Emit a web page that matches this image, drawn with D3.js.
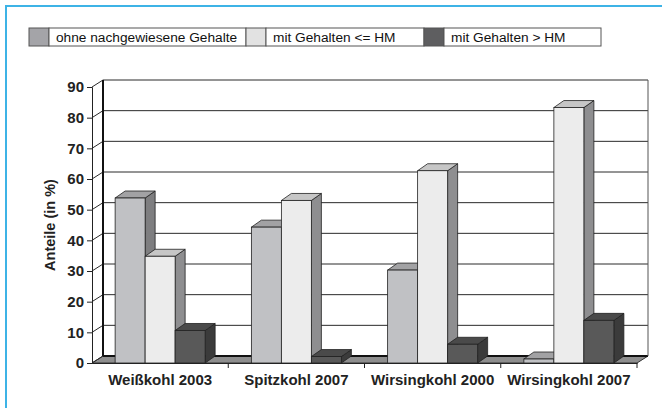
<!DOCTYPE html>
<html>
<head>
<meta charset="utf-8">
<script src="https://cdn.jsdelivr.net/npm/d3@7"></script>
<style>
  body { margin: 0; background: #fff; }
  svg { display: block; font-family: "Liberation Sans", Arial, sans-serif; }
</style>
</head>
<body>
<div id="root"></div>
<script>
const categories = ['Weißkohl 2003', 'Spitzkohl 2007', 'Wirsingkohl 2000', 'Wirsingkohl 2007']
const seriesNames = ['ohne nachgewiesene Gehalte', 'mit Gehalten <= HM', 'mit Gehalten > HM']
const ohneGehalte = [53.8, 44.3, 30.3, 1.3]
const unterHM = [34.8, 53, 62.7, 83.3]
const ueberHM = [10.6, 2.1, 6.1, 13.9]
const yTicks = [0, 10, 20, 30, 40, 50, 60, 70, 80, 90]

const w = 662
const h = 408

const front = { left: 92, right: 637, bottom: 363, top: 87 }
const depth = { dx: 11, dy: -7 }
const barDepth = { dx: 10, dy: -7 }
const barW = 30

const faces = [
  { front: '#c0c1c4', top: '#a2a2a4', side: '#7e7e80', legend: '#a4a4a8' },
  { front: '#ececec', top: '#c6c6c6', side: '#8e8e90', legend: '#e2e2e2' },
  { front: '#595959', top: '#4a4a4a', side: '#3b3b3b', legend: '#5e5e60' }
]

const values = [ohneGehalte, unterHM, ueberHM]

const svg = d3.select('#root')
  .append('svg')
  .attr('width', w)
  .attr('height', h)

// blue frame (top and left edge)
svg.append('path')
  .attr('d', 'M6,' + h + ' L6,6 L' + w + ',6')
  .attr('fill', 'none')
  .attr('stroke', '#3db3e6')
  .attr('stroke-width', 2)

const xScale = d3.scaleBand()
  .domain(categories)
  .range([front.left, front.right])

const subScale = d3.scaleBand()
  .domain(seriesNames)
  .range([0, barW * seriesNames.length])

const yScale = d3.scaleLinear()
  .domain([0, 90])
  .range([front.bottom, front.top])

const pts = arr => arr.map(p => p.join(',')).join(' ')

// floor
svg.append('polygon')
  .attr('points', pts([
    [front.left, front.bottom], [front.right, front.bottom],
    [front.right + depth.dx, front.bottom + depth.dy], [front.left + depth.dx, front.bottom + depth.dy]
  ]))
  .attr('fill', '#8e8e8e')
  .attr('stroke', '#333')
  .attr('stroke-width', 1)

// back wall grid
const grid = svg.append('g')
yTicks.forEach(t => {
  const yy = yScale(t)
  grid.append('line')
    .attr('x1', front.left + depth.dx).attr('x2', front.right + depth.dx)
    .attr('y1', yy + depth.dy).attr('y2', yy + depth.dy)
    .attr('stroke', t === 0 ? '#111' : '#2a2a2a')
    .attr('stroke-width', t === 0 ? 2 : 1)
  grid.append('line')
    .attr('x1', front.left).attr('x2', front.left + depth.dx)
    .attr('y1', yy).attr('y2', yy + depth.dy)
    .attr('stroke', '#2a2a2a')
})

// back wall left and right edges
grid.append('line')
  .attr('x1', front.left + depth.dx).attr('x2', front.left + depth.dx)
  .attr('y1', yScale(0) + depth.dy).attr('y2', yScale(90) + depth.dy)
  .attr('stroke', '#111').attr('stroke-width', 2)
grid.append('line')
  .attr('x1', front.right + depth.dx).attr('x2', front.right + depth.dx)
  .attr('y1', yScale(0) + depth.dy).attr('y2', yScale(90) + depth.dy)
  .attr('stroke', '#555').attr('stroke-width', 1)

// bars
const bars = svg.append('g')
categories.forEach((cat, ci) => {
  const x0 = xScale(cat) + (xScale.bandwidth() - subScale.range()[1]) / 2
  seriesNames.forEach((s, si) => {
    const v = values[si][ci]
    const bx = x0 + subScale(s)
    const by = yScale(v)
    const b0 = yScale(0)
    const f = faces[si]
    bars.append('polygon')
      .attr('points', pts([
        [bx + barW, b0], [bx + barW + barDepth.dx, b0 + barDepth.dy],
        [bx + barW + barDepth.dx, by + barDepth.dy], [bx + barW, by]
      ]))
      .attr('fill', f.side).attr('stroke', '#222').attr('stroke-width', 0.8)
    bars.append('polygon')
      .attr('points', pts([
        [bx, by], [bx + barW, by],
        [bx + barW + barDepth.dx, by + barDepth.dy], [bx + barDepth.dx, by + barDepth.dy]
      ]))
      .attr('fill', f.top).attr('stroke', '#222').attr('stroke-width', 0.8)
    bars.append('rect')
      .attr('x', bx).attr('y', by)
      .attr('width', barW).attr('height', b0 - by)
      .attr('fill', f.front).attr('stroke', '#222').attr('stroke-width', 0.8)
  })
})

// axes
const yAxis = d3.axisLeft(yScale)
  .tickValues(yTicks)
  .tickSize(5)
  .tickPadding(3)

svg.append('g')
  .attr('transform', 'translate(' + front.left + ',0)')
  .call(yAxis)
  .call(g => g.select('.domain').attr('stroke', '#222'))
  .call(g => g.selectAll('.tick line').attr('stroke', '#222'))
  .call(g => g.selectAll('text')
    .attr('font-size', 15).attr('font-weight', 'bold').attr('fill', '#222')
    .attr('font-family', '"Liberation Sans", Arial, sans-serif'))

const xAxis = d3.axisBottom(xScale)
  .tickSize(0)
  .tickPadding(11)

svg.append('g')
  .attr('transform', 'translate(0,' + front.bottom + ')')
  .call(xAxis)
  .call(g => g.select('.domain').attr('stroke', '#222'))
  .call(g => g.selectAll('text')
    .attr('font-size', 15).attr('font-weight', 'bold').attr('fill', '#222')
    .attr('font-family', '"Liberation Sans", Arial, sans-serif'))

// category separators
svg.append('g')
  .selectAll('line')
  .data(categories.slice(1).map(c => xScale(c)).concat([front.right]))
  .enter()
  .append('line')
    .attr('x1', d => d).attr('x2', d => d)
    .attr('y1', front.bottom).attr('y2', front.bottom + 5)
    .attr('stroke', '#222')

svg.append('text')
  .attr('transform', 'translate(50,225) rotate(-90)')
  .attr('text-anchor', 'middle')
  .attr('dominant-baseline', 'central')
  .attr('font-size', 14.5)
  .attr('font-weight', 'bold')
  .attr('fill', '#222')
  .text('Anteile (in %)')

// legend
const legendX = [29, 246, 424]
const legendW = [217, 178, 177]
const legend = svg.append('g')
seriesNames.forEach((s, i) => {
  legend.append('rect')
    .attr('x', legendX[i]).attr('y', 28)
    .attr('width', 20).attr('height', 18)
    .attr('fill', faces[i].legend).attr('stroke', '#555')
  legend.append('rect')
    .attr('x', legendX[i] + 20).attr('y', 28)
    .attr('width', legendW[i] - 20).attr('height', 18)
    .attr('fill', '#fff').attr('stroke', '#555')
  legend.append('text')
    .attr('x', legendX[i] + 27).attr('y', 37)
    .attr('dominant-baseline', 'central')
    .attr('font-size', 13.7)
    .attr('fill', '#111')
    .text(s)
})
</script>
</body>
</html>
